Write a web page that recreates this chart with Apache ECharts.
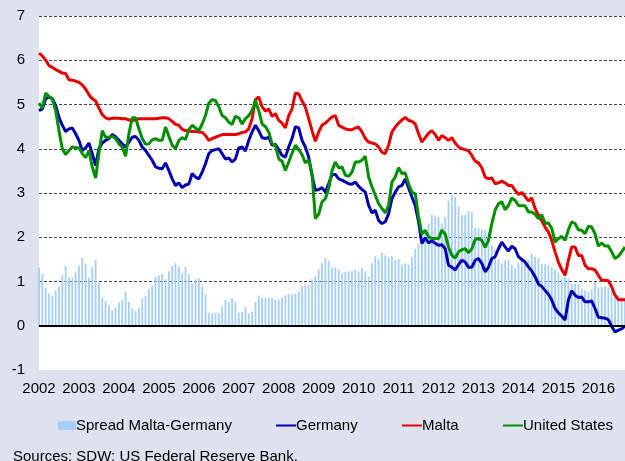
<!DOCTYPE html>
<html>
<head>
<meta charset="utf-8">
<script src="https://cdn.jsdelivr.net/npm/echarts@6/dist/echarts.min.js"></script>
<style>
  html, body { margin: 0; padding: 0; background: #dce3ef; }
  #chart { width: 625px; height: 461px; }
</style>
</head>
<body>
<div id="chart"></div>
<script>
// monthly observations, Jan 2002 .. Sep 2016
const years = ['2002', '2003', '2004', '2005', '2006', '2007', '2008', '2009',
  '2010', '2011', '2012', '2013', '2014', '2015', '2016']
const monthCount = 177

const spread = [
  1.32, 1.18, 0.86, 0.73, 0.68, 0.8, 0.89, 1.14, 1.35, 1.09, 1.09, 1.21,
  1.35, 1.54, 1.39, 1.09, 1.32, 1.48, 0.97, 0.64, 0.56, 0.46, 0.35, 0.41,
  0.53, 0.58, 0.77, 0.54, 0.39, 0.33, 0.4, 0.62, 0.67, 0.82, 0.91, 1.11,
  1.14, 1.17, 1.05, 1.23, 1.35, 1.42, 1.33, 1.18, 1.33, 1.17, 0.94, 1.05,
  1.07, 0.9, 0.71, 0.29, 0.28, 0.29, 0.29, 0.44, 0.58, 0.54, 0.62, 0.54,
  0.3, 0.32, 0.43, 0.28, 0.32, 0.54, 0.68, 0.63, 0.62, 0.63, 0.62, 0.59,
  0.59, 0.64, 0.69, 0.71, 0.71, 0.73, 0.77, 0.9, 0.93, 0.92, 1.05, 1.12,
  1.27, 1.41, 1.53, 1.47, 1.32, 1.32, 1.27, 1.18, 1.22, 1.23, 1.23, 1.26,
  1.23, 1.31, 1.23, 1.11, 1.41, 1.57, 1.5, 1.65, 1.59, 1.54, 1.57, 1.48,
  1.5, 1.38, 1.41, 1.38, 1.56, 1.74, 1.84, 1.99, 2.16, 2.31, 2.5, 2.47,
  2.46, 2.31, 2.46, 2.83, 2.95, 2.91, 2.7, 2.5, 2.51, 2.59, 2.57, 2.21,
  2.2, 2.17, 2.16, 2.12, 1.82, 1.71, 1.5, 1.41, 1.48, 1.5, 1.37, 1.29,
  1.41, 1.5, 1.44, 1.48, 1.63, 1.56, 1.52, 1.39, 1.39, 1.37, 1.33, 1.27,
  1.2, 1.07, 1.11, 1.07, 0.94, 0.95, 0.95, 0.84, 0.8, 0.77, 0.82, 0.99,
  0.86, 0.88, 0.89, 0.88, 0.8, 0.69, 0.69, 0.65, 0.62
]

const germany = [
  4.86, 4.9, 5.13, 5.17, 5.13, 4.98, 4.71, 4.53, 4.39, 4.45, 4.47, 4.34,
  4.19, 3.96, 4.02, 4.13, 3.89, 3.62, 4.0, 4.13, 4.19, 4.23, 4.32, 4.27,
  4.19, 4.11, 4.04, 4.15, 4.26, 4.28, 4.19, 4.04, 3.96, 3.85, 3.74, 3.59,
  3.56, 3.55, 3.68, 3.51, 3.32, 3.17, 3.23, 3.12, 3.18, 3.2, 3.44, 3.36,
  3.32, 3.47, 3.66, 3.89, 3.96, 3.98, 4.0, 3.89, 3.77, 3.79, 3.7, 3.77,
  4.02, 4.04, 3.95, 4.19, 4.38, 4.53, 4.41, 4.25, 4.23, 4.26, 4.08, 4.1,
  3.98, 3.85, 3.81, 4.04, 4.23, 4.5, 4.47, 4.19, 4.04, 3.81, 3.4, 3.06,
  3.08, 3.12, 3.02, 3.21, 3.42, 3.42, 3.32, 3.29, 3.25, 3.21, 3.2, 3.25,
  3.15, 3.08, 3.02, 2.72, 2.55, 2.61, 2.38, 2.31, 2.35, 2.53, 2.87, 3.02,
  3.14, 3.17, 3.32, 3.12, 2.91, 2.72, 2.35, 1.86, 1.99, 1.87, 1.92, 1.86,
  1.82, 1.83, 1.74, 1.37, 1.32, 1.26, 1.38, 1.48, 1.44, 1.32, 1.32, 1.48,
  1.52, 1.41, 1.22, 1.32, 1.52, 1.56, 1.74, 1.89, 1.78, 1.69, 1.8, 1.74,
  1.56, 1.5, 1.44, 1.33, 1.24, 1.11, 0.94, 0.89, 0.8, 0.71, 0.58, 0.39,
  0.29, 0.22, 0.13, 0.58, 0.79, 0.69, 0.64, 0.65, 0.54, 0.54, 0.56, 0.39,
  0.19, 0.18, 0.17, 0.14, -0.01, -0.14, -0.1, -0.07, -0.01
]

const malta = [
  6.16, 6.1, 6.0, 5.88, 5.84, 5.79, 5.75, 5.71, 5.7, 5.56, 5.55, 5.53,
  5.5, 5.44, 5.35, 5.22, 5.13, 5.08, 4.92, 4.77, 4.7, 4.67, 4.69, 4.69,
  4.69, 4.68, 4.68, 4.65, 4.64, 4.65, 4.68, 4.68, 4.68, 4.68, 4.68, 4.68,
  4.69, 4.7, 4.7, 4.68, 4.62, 4.55, 4.53, 4.44, 4.41, 4.4, 4.39, 4.39,
  4.38, 4.37, 4.3, 4.19, 4.23, 4.26, 4.29, 4.32, 4.32, 4.32, 4.32, 4.32,
  4.34, 4.37, 4.38, 4.45, 4.68, 5.11, 5.17, 4.95, 4.85, 4.9, 4.73, 4.79,
  4.64, 4.58, 4.47, 4.75, 4.9, 5.26, 5.24, 5.08, 4.94, 4.68, 4.41, 4.17,
  4.38, 4.53, 4.58, 4.65, 4.72, 4.75, 4.53, 4.49, 4.45, 4.43, 4.43, 4.47,
  4.49, 4.38, 4.23, 4.15, 4.13, 4.11, 4.04, 3.92, 3.89, 4.08, 4.38, 4.49,
  4.58, 4.65, 4.71, 4.64, 4.62, 4.56, 4.34, 4.15, 4.25, 4.35, 4.41, 4.32,
  4.19, 4.3, 4.25, 4.19, 4.25, 4.13, 4.04, 4.0, 3.98, 3.95, 3.85, 3.72,
  3.68, 3.57, 3.36, 3.32, 3.34, 3.21, 3.23, 3.27, 3.23, 3.17, 3.17, 3.06,
  2.97, 3.01, 2.92, 2.82, 2.89, 2.65, 2.5, 2.37, 2.23, 2.12, 1.93, 1.67,
  1.44, 1.27, 1.14, 1.48, 1.78, 1.78, 1.59, 1.59, 1.37, 1.29, 1.29, 1.26,
  1.14, 1.03, 1.03, 1.02, 0.88, 0.69, 0.59, 0.59, 0.59
]

const unitedStates = [
  5.03, 4.92, 5.26, 5.18, 5.13, 4.86, 4.41, 4.0, 3.87, 3.96, 4.04, 4.02,
  4.02, 3.89, 3.8, 3.96, 3.59, 3.34, 3.89, 4.41, 4.26, 4.26, 4.28, 4.23,
  4.11, 4.04, 3.83, 4.34, 4.7, 4.7, 4.45, 4.23, 4.1, 4.11, 4.2, 4.23,
  4.19, 4.19, 4.49, 4.28, 4.08, 4.0, 4.19, 4.25, 4.21, 4.43, 4.53, 4.47,
  4.41, 4.56, 4.75, 5.03, 5.11, 5.09, 4.95, 4.75, 4.7, 4.6, 4.55, 4.73,
  4.7, 4.56, 4.68, 4.75, 4.86, 5.09, 4.86, 4.56, 4.5, 4.38, 4.11, 4.08,
  3.77, 3.72, 3.51, 3.7, 3.9, 4.08, 3.98, 3.87, 3.68, 3.75, 3.44, 2.42,
  2.52, 2.8, 2.87, 3.1, 3.5, 3.7, 3.57, 3.59, 3.4, 3.38, 3.47, 3.7,
  3.7, 3.74, 3.83, 3.36, 3.14, 2.95, 2.76, 2.65, 2.55, 2.72, 3.25, 3.36,
  3.57, 3.44, 3.45, 3.21, 3.02, 2.98, 2.46, 2.07, 2.16, 2.01, 1.97, 1.97,
  1.97, 2.16, 2.07, 1.78, 1.59, 1.53, 1.67, 1.72, 1.74, 1.65, 1.74, 1.95,
  1.97, 1.93, 1.77, 1.93, 2.31, 2.61, 2.76, 2.8, 2.62, 2.72, 2.89, 2.83,
  2.72, 2.71, 2.71, 2.57, 2.57, 2.52, 2.42, 2.51, 2.31, 2.32, 2.2, 1.89,
  1.97, 2.02, 1.93, 2.17, 2.35, 2.31, 2.17, 2.16, 2.08, 2.25, 2.23, 2.08,
  1.8, 1.87, 1.8, 1.8, 1.67, 1.52, 1.57, 1.67, 1.78
]

const months = []
for (let i = 0; i < monthCount; i++) {
  months.push(years[Math.floor(i / 12)] + '-' + String((i % 12) + 1).padStart(2, '0'))
}

const chart = echarts.init(document.getElementById('chart'))
const font = 'Liberation Sans, Arial, sans-serif'
// thin line icon: bounding box 20x8, visible band in the middle
const lineIcon = 'path://M0,0 M0,3 L20,3 L20,5 L0,5 Z M20,8'

const legendBase = {
  top: 418,
  padding: 0,
  itemWidth: 20,
  itemHeight: 8,
  textStyle: { fontSize: 15, color: '#000', fontFamily: font, padding: [0, 0, 0, -5] },
}

chart.setOption({
  backgroundColor: '#dce3ef',
  animation: false,
  textStyle: { fontFamily: font },
  grid: {
    left: 39,
    right: 0,
    top: 16,
    bottom: 91,
    show: true,
    backgroundColor: '#ffffff',
    borderWidth: 0,
  },
  legend: [
    { ...legendBase, left: 58, itemWidth: 18, itemHeight: 9,
      data: [{ name: 'Spread Malta-Germany', icon: 'rect' }] },
    { ...legendBase, left: 276, data: [{ name: 'Germany', icon: lineIcon }] },
    { ...legendBase, left: 402, data: [{ name: 'Malta', icon: lineIcon }] },
    { ...legendBase, left: 503, data: [{ name: 'United States', icon: lineIcon }] },
  ],
  xAxis: {
    type: 'category',
    data: months,
    boundaryGap: false,
    axisTick: { show: false },
    axisLine: { lineStyle: { color: '#aaaaaa', type: [2, 2], width: 1 } },
    axisLabel: {
      interval: 11,
      margin: 11,
      color: '#000',
      fontSize: 15,
      formatter: (v) => v.slice(0, 4),
    },
    splitLine: { show: false },
  },
  yAxis: {
    type: 'value',
    min: -1,
    max: 7,
    interval: 1,
    axisLine: { show: false },
    axisTick: { show: false },
    axisLabel: { color: '#000', fontSize: 15, margin: 14 },
    splitLine: {
      showMinLine: false,
      lineStyle: { color: '#444', type: [3, 2], width: 1 },
    },
  },
  series: [
    {
      name: 'Spread Malta-Germany',
      type: 'bar',
      data: spread,
      barWidth: '55%',
      itemStyle: { color: '#a6cff7' },
      markLine: {
        silent: true,
        symbol: 'none',
        label: { show: false },
        lineStyle: { color: '#000', type: 'solid', width: 2 },
        data: [{ yAxis: 0 }],
      },
    },
    {
      name: 'Germany',
      type: 'line',
      data: germany,
      symbol: 'none',
      lineStyle: { color: '#0000b0', width: 3 },
      itemStyle: { color: '#0000b0' },
    },
    {
      name: 'Malta',
      type: 'line',
      data: malta,
      symbol: 'none',
      lineStyle: { color: '#e60000', width: 3 },
      itemStyle: { color: '#e60000' },
    },
    {
      name: 'United States',
      type: 'line',
      data: unitedStates,
      symbol: 'none',
      lineStyle: { color: '#008f00', width: 3 },
      itemStyle: { color: '#008f00' },
    },
  ],
  graphic: [
    {
      type: 'text',
      left: 13,
      top: 449,
      style: {
        text: 'Sources: SDW; US Federal Reserve Bank.',
        fontSize: 15,
        fontFamily: font,
        fill: '#000',
      },
    },
  ],
})
</script>
</body>
</html>
